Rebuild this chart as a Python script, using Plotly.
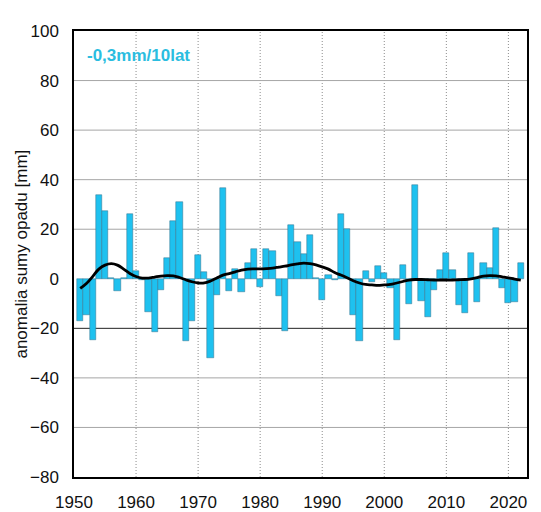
import plotly.graph_objects as go

years = list(range(1951, 2023))
anomaly = [
    -17, -14.5, -24.7, 33.9, 27.2, 0.4, -5, 0.5, 26, 3,
    -0.3, -13.5, -21.5, -4.5, 8.3, 23.5, 30.8, -25.2, -17, 9.5,
    2.8, -32, -6.5, 36.5, -4.8, 4.1, -5.5, 6.3, 12.1, -3.5,
    12.1, 11.3, -6.8, -21.2, 21.9, 15, 9.9, 17.7, 0.3, -8.4,
    1.7, -0.4, 26, 20, -14.8, -25, 3, -1.5, 5, 2.2,
    -3.6, -24.7, 5.4, -10.1, 38, -9, -15.5, -4.4, 3.5, 10.5,
    3.5, -10.4, -13.9, 10.5, -9.2, 6.5, 4.3, 20.5, -3.9, -9.9,
    -9.2, 6.5,
]
smooth = [
    -3.9, -1.9, 0.9, 3.9, 5.5, 6.1, 5.5, 3.9, 2.1, 0.9,
    0.3, 0.3, 0.7, 1.1, 1.3, 1.2, 0.5, -0.4, -1.2, -1.7,
    -1.7, -0.9, 0.3, 1.5, 2.1, 2.8, 3.5, 3.9, 4.0, 4.0,
    4.1, 4.3, 4.7, 5.1, 5.6, 6.0, 6.3, 6.1, 5.6, 4.8,
    3.9, 2.5, 1.5, 0.4, -0.8, -1.7, -2.3, -2.5, -2.7, -2.5,
    -2.3, -1.7, -1.1, -0.5, -0.3, -0.3, -0.4, -0.5, -0.5, -0.5,
    -0.5, -0.4, -0.3, 0.0, 0.5, 1.1, 1.3, 1.2, 0.8, 0.4,
    -0.1, -0.5,
]
x_ticks = [1950, 1960, 1970, 1980, 1990, 2000, 2010, 2020]
y_ticks = [-80, -60, -40, -20, 0, 20, 40, 60, 80, 100]
trend_label = "-0,3mm/10lat"
y_title = "anomalia sumy opadu [mm]"

FONT = "Liberation Sans, Arial, sans-serif"

fig = go.Figure()
fig.add_trace(go.Bar(
    x=years, y=anomaly, width=1.0,
    marker=dict(color="#1EC1EF", line=dict(color="#34708c", width=0.5)),
    showlegend=False, hoverinfo="x+y",
))
fig.add_trace(go.Scatter(
    x=years, y=smooth, mode="lines",
    line=dict(color="#000000", width=2.8, shape="spline"),
    showlegend=False,
))

# vertical dotted gridlines
for xv in x_ticks[1:]:
    fig.add_shape(type="line", xref="x", yref="paper", x0=xv, x1=xv, y0=0, y1=1,
                  line=dict(color="#8c8c8c", width=1, dash="1px,2px"), layer="below")
# horizontal gridlines (none at 0, dark at -20)
for yv in y_ticks[1:-1]:
    if yv == 0:
        continue
    col = "#222222" if yv == -20 else "#a6a6a6"
    fig.add_shape(type="line", xref="paper", yref="y", x0=0, x1=1, y0=yv, y1=yv,
                  line=dict(color=col, width=1), layer="below")

fig.add_annotation(
    text="<b>" + trend_label + "</b>", xref="paper", yref="paper",
    x=0.025, y=0.944, xanchor="left", yanchor="middle", showarrow=False,
    font=dict(family=FONT, size=17, color="#2BBDE0"),
)
fig.add_annotation(
    text=y_title, xref="paper", yref="paper", textangle=-90,
    x=-0.118, y=0.5, xanchor="center", yanchor="middle", showarrow=False,
    font=dict(family=FONT, size=17, color="#111111"),
)

# the page body has an 8px margin, so the figure is sized/offset to compensate
fig.update_layout(
    width=533, height=504,
    margin=dict(l=65.5, r=14, t=23, b=34.5, autoexpand=False),
    paper_bgcolor="white", plot_bgcolor="white",
    bargap=0,
    font=dict(family=FONT, size=17, color="#111111"),
)
fig.update_xaxes(
    range=[1950, 2023], tickvals=x_ticks, showgrid=False, zeroline=False,
    showline=True, linecolor="#000000", linewidth=1.5, mirror=True,
    ticks="", ticklabelstandoff=9, automargin=False,
)
fig.update_yaxes(
    range=[-80, 100], tickvals=y_ticks, showgrid=False, zeroline=False,
    showline=True, linecolor="#000000", linewidth=1.5, mirror=True,
    ticks="", ticklabelstandoff=10, automargin=False,
)

fig.write_html("out.html")
